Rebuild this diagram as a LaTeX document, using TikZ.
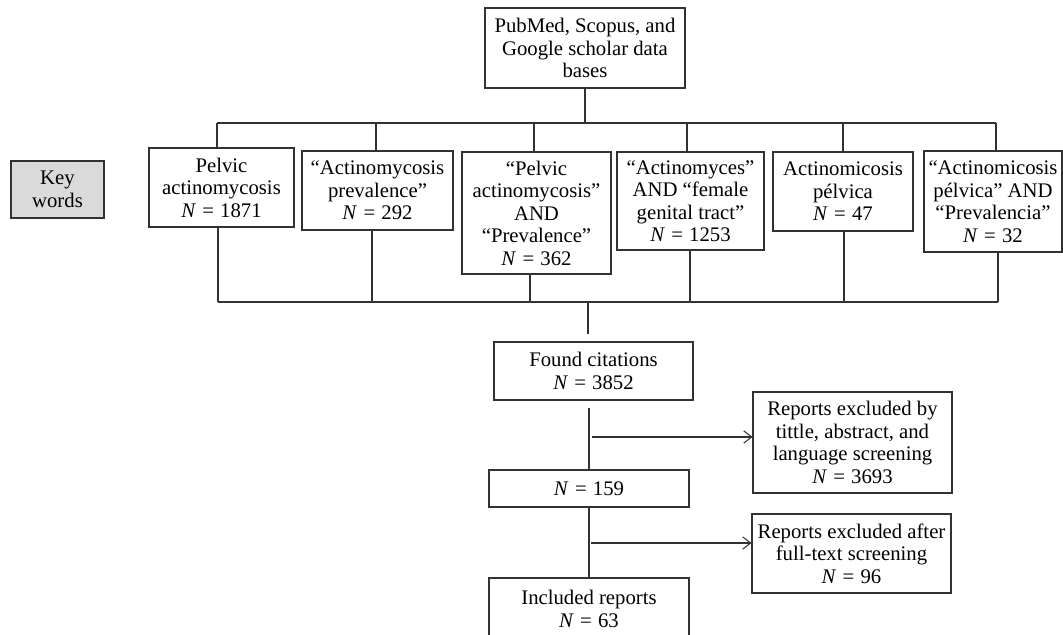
\documentclass[tikz,border=0pt]{standalone}
\usepackage{fontspec}
\setmainfont{Liberation Serif}
\usetikzlibrary{arrows.meta}
\definecolor{keyfill}{RGB}{218,218,218}
\definecolor{ln}{RGB}{50,50,50}
\tikzset{
  box/.style={draw=ln, line width=0.6pt, align=center, inner sep=0pt, font=\fontsize{11.8}{12.8}\selectfont},
  conn/.style={draw=ln, line width=0.6pt},
  arr/.style={conn, -{Straight Barb[length=4.5pt,width=7pt]}}
}
\newcommand{\NN}{\textit{N}\hspace{0.3em}=\hspace{0.3em}}
\begin{document}
\begin{tikzpicture}[x=0.02cm,y=-0.02cm]
\useasboundingbox (0,0) rectangle (1063,635);
\clip (0,0) rectangle (1063,635);
% nodes
\node[box, minimum width=4cm, minimum height=1.6cm] (top) at (585,48) {PubMed, Scopus, and\\Google scholar data\\bases};
\node[box, fill=keyfill, minimum width=1.86cm, minimum height=1.14cm] (key) at (57.5,189.5) {Key\\words};
\node[box, minimum width=2.9cm, minimum height=1.58cm] (k1) at (221.5,187.5) {Pelvic\\actinomycosis\\\NN 1871};
\node[box, minimum width=3.02cm, minimum height=1.58cm] (k2) at (377.5,190.5) {“Actinomycosis\\prevalence”\\\NN 292};
\node[box, minimum width=2.98cm, minimum height=2.44cm] (k3) at (536.5,213) {“Pelvic\\actinomycosis”\\AND\\“Prevalence”\\\NN 362};
\node[box, minimum width=2.94cm, minimum height=1.96cm] (k4) at (690.5,201) {“Actinomyces”\\AND “female\\genital tract”\\\NN 1253};
\node[box, minimum width=2.8cm, minimum height=1.58cm] (k5) at (843,191.5) {Actinomicosis\\pélvica\\\NN 47};
\node[box, minimum width=2.76cm, minimum height=2.02cm] (k6) at (993,201.5) {“Actinomicosis\\pélvica” AND\\“Prevalencia”\\\NN 32};
\node[box, minimum width=3.98cm, minimum height=1.16cm] (found) at (593.5,371) {Found citations\\\NN 3852};
\node[box, minimum width=3.98cm, minimum height=2.02cm] (exc1) at (852.5,442.5) {Reports excluded by\\tittle, abstract, and\\language screening\\\NN 3693};
\node[box, minimum width=4cm, minimum height=0.74cm] (n159) at (589,488.5) {\NN 159};
\node[box, minimum width=3.98cm, minimum height=1.58cm] (exc2) at (851.5,553.5) {Reports excluded after\\full-text screening\\\NN 96};
\node[box, minimum width=4cm, minimum height=1.24cm] (incl) at (589,609) {Included reports\\\NN 63};
% top junction
\coordinate (tj) at (585,123);
\coordinate (tl) at (217,123);
\coordinate (tr) at (996,123);
\draw[conn] (top.south) -- (tj);
\draw[conn] (tl) -- (tr);
\foreach \n/\x in {k1/217,k2/376,k3/534,k4/687,k5/843,k6/996}
  \draw[conn] (\x,123) -- (\n.north -| \x,0);
% bottom junction
\coordinate (bl) at (218,302);
\coordinate (br) at (998,302);
\coordinate (bj) at (588,302);
\draw[conn] (bl) -- (br);
\foreach \n/\x in {k1/218,k2/372,k3/530,k4/690,k5/844,k6/998}
  \draw[conn] (\n.south -| \x,0) -- (\x,302);
\draw[conn, shorten >=0.14cm] (bj) -- (bj |- found.north);
\draw[conn, shorten <=0.14cm] (found.south -| 589,0) -- (n159.north -| 589,0);
\coordinate (a1) at (592,437);
\draw[arr] (a1) -- (a1 -| exc1.west);
\draw[conn] (n159.south) -- (incl.north);
\coordinate (a2) at (591,543);
\draw[arr] (a2) -- (a2 -| exc2.west);
\end{tikzpicture}
\end{document}
